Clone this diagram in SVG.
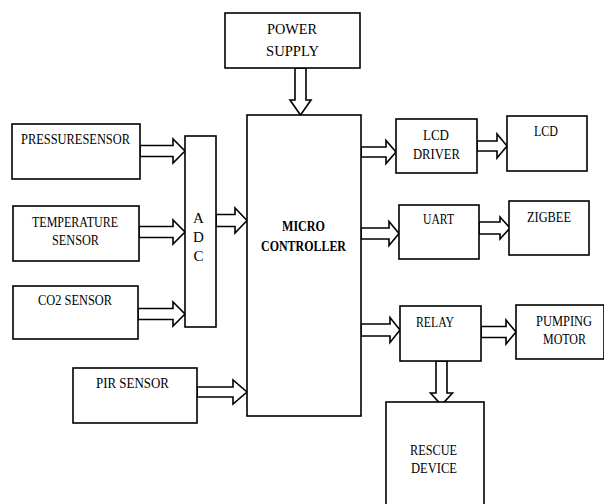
<svg xmlns="http://www.w3.org/2000/svg" width="604" height="504" viewBox="0 0 604 504">
<style>
.box{fill:#fff;stroke:#000;stroke-width:1.6}
.arr{fill:#fff;stroke:#000;stroke-width:1.6;stroke-linejoin:miter}
text{font-family:"Liberation Serif","Times New Roman",serif;font-size:15px;fill:#000;text-anchor:middle}
.b{font-weight:bold}
</style>
<rect width="604" height="504" fill="#fff"/>
<g id="connectors">
<polygon class="arr" points="295,68 306,68 306,100 311,100 300.5,115 290,100 295,100"/>
<polygon class="arr" points="140,145.5 173,145.5 173,139 185,151 173,163 173,156.5 140,156.5"/>
<polygon class="arr" points="139,226.5 173,226.5 173,220 185,232 173,244 173,237.5 139,237.5"/>
<polygon class="arr" points="138,308.5 173,308.5 173,302 185,314 173,326 173,319.5 138,319.5"/>
<polygon class="arr" points="216,214.5 235,214.5 235,208 247,220.5 235,233 235,226.5 216,226.5"/>
<polygon class="arr" points="197,387 233,387 233,380 247,392 233,404 233,397 197,397"/>
<polygon class="arr" points="361,147 386,147 386,140.5 396,152 386,163.5 386,157 361,157"/>
<polygon class="arr" points="477,141 497,141 497,134 507,146 497,158 497,151 477,151"/>
<polygon class="arr" points="361,228 389,228 389,221.5 399,233.5 389,245.5 389,239 361,239"/>
<polygon class="arr" points="479,222 500,222 500,217 510,228 500,239 500,234 479,234"/>
<polygon class="arr" points="361,324 390,324 390,317.5 400,330 390,342.5 390,336 361,336"/>
<polygon class="arr" points="481,326.5 506,326.5 506,320 516,332 506,344 506,337.5 481,337.5"/>
<polygon class="arr" points="436,361 447,361 447,393 452.5,393 441.5,405 430.5,393 436,393"/>
</g>
<g id="power"><rect class="box" x="225" y="13" width="135" height="55"/><text x="292" y="34" textLength="50" lengthAdjust="spacingAndGlyphs">POWER</text><text x="292.5" y="56" textLength="53" lengthAdjust="spacingAndGlyphs">SUPPLY</text></g>
<g id="mc"><rect class="box" x="247" y="115" width="114" height="301"/><text class="b" x="303.5" y="231" textLength="43" lengthAdjust="spacingAndGlyphs">MICRO</text><text class="b" x="303.5" y="251" textLength="85" lengthAdjust="spacingAndGlyphs">CONTROLLER</text></g>
<g id="adc"><rect class="box" x="185" y="136" width="31" height="191"/><text x="198.5" y="223">A</text><text x="198.5" y="242">D</text><text x="198.5" y="261">C</text></g>
<g id="pressure"><rect class="box" x="12" y="124" width="128" height="55"/><text x="75.5" y="144" textLength="109" lengthAdjust="spacingAndGlyphs">PRESSURESENSOR</text></g>
<g id="temperature"><rect class="box" x="13" y="206" width="126" height="55"/><text x="75" y="227" textLength="86" lengthAdjust="spacingAndGlyphs">TEMPERATURE</text><text x="75.5" y="245" textLength="47" lengthAdjust="spacingAndGlyphs">SENSOR</text></g>
<g id="co2"><rect class="box" x="13" y="286" width="125" height="53"/><text x="75" y="305" textLength="74" lengthAdjust="spacingAndGlyphs">CO2 SENSOR</text></g>
<g id="pir"><rect class="box" x="73" y="368" width="124" height="55"/><text x="132.5" y="388" textLength="73" lengthAdjust="spacingAndGlyphs">PIR SENSOR</text></g>
<g id="lcddriver"><rect class="box" x="396" y="119" width="81" height="54"/><text x="436" y="140" textLength="26" lengthAdjust="spacingAndGlyphs">LCD</text><text x="436.5" y="159" textLength="47" lengthAdjust="spacingAndGlyphs">DRIVER</text></g>
<g id="lcd"><rect class="box" x="507" y="116" width="80" height="55"/><text x="546" y="136" textLength="24" lengthAdjust="spacingAndGlyphs">LCD</text></g>
<g id="uart"><rect class="box" x="399" y="205" width="80" height="54"/><text x="438.5" y="224" textLength="31" lengthAdjust="spacingAndGlyphs">UART</text></g>
<g id="zigbee"><rect class="box" x="509" y="201" width="80" height="54"/><text x="549" y="222" textLength="44" lengthAdjust="spacingAndGlyphs">ZIGBEE</text></g>
<g id="relay"><rect class="box" x="400" y="306" width="81" height="55"/><text x="435" y="327" textLength="38" lengthAdjust="spacingAndGlyphs">RELAY</text></g>
<g id="pump"><rect class="box" x="516" y="305" width="88" height="54"/><text x="564" y="326" textLength="56" lengthAdjust="spacingAndGlyphs">PUMPING</text><text x="564.5" y="344" textLength="43" lengthAdjust="spacingAndGlyphs">MOTOR</text></g>
<g id="rescue"><rect class="box" x="386" y="402" width="98" height="110"/><text x="433.5" y="455" textLength="47" lengthAdjust="spacingAndGlyphs">RESCUE</text><text x="434" y="473" textLength="46" lengthAdjust="spacingAndGlyphs">DEVICE</text></g>
</svg>
